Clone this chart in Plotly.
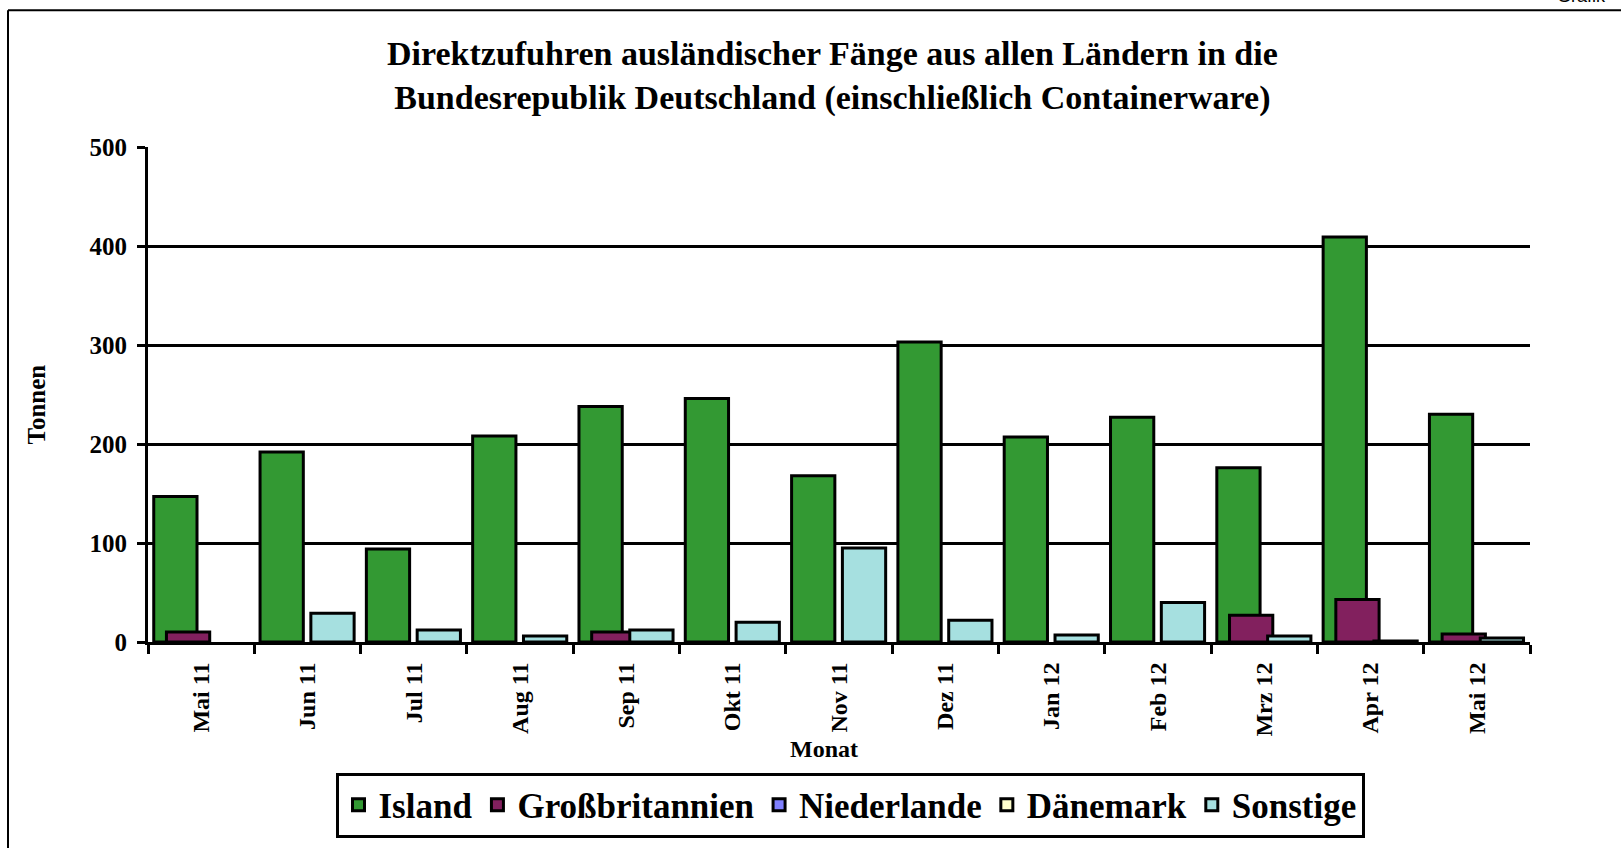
import plotly.graph_objects as go

months = ["Mai 11", "Jun 11", "Jul 11", "Aug 11", "Sep 11", "Okt 11", "Nov 11",
          "Dez 11", "Jan 12", "Feb 12", "Mrz 12", "Apr 12", "Mai 12"]
# None = no value (no bar drawn)
island = [147, 192, 94, 208, 238, 246, 168, 303, 207, 227, 176, 409, 230]
grossbritannien = [10, None, None, None, 10, None, None, None, None, None, 27, 43, 8]
niederlande = [None] * 13
daenemark = [None] * 13
sonstige = [None, 29, 12, 6, 12, 20, 95, 22, 7, 40, 6, 1, 4]

series = [
    ("Island", island, "#339933"),
    ("Großbritannien", grossbritannien, "#82205E"),
    ("Niederlande", niederlande, "#8080FF"),
    ("Dänemark", daenemark, "#FFFFCC"),
    ("Sonstige", sonstige, "#A6E0E0"),
]

W, H = 1621, 848
L, R, T, B = 148, 91, 147, 205
PW, PH = W - L - R, H - T - B


def px(x):
    return (x - L) / PW


def py(y):
    return (H - B - y) / PH


FONT = "Liberation Serif, Times New Roman, serif"

fig = go.Figure()
bw = 0.407
step = 0.1195
for i, (name, vals, col) in enumerate(series):
    fig.add_trace(go.Bar(
        x=months, y=vals, name=name,
        marker=dict(color=col, line=dict(color="black", width=3)),
        width=bw, offset=-0.446 + i * step,
    ))

fig.update_layout(
    width=W, height=H,
    margin=dict(l=L, r=R, t=T, b=B),
    barmode="overlay",
    plot_bgcolor="white", paper_bgcolor="white",
    showlegend=True,
    legend=dict(
        orientation="h", x=px(850), y=py(805), xanchor="center", yanchor="middle",
        bordercolor="black", borderwidth=3, bgcolor="white",
        font=dict(family=FONT, size=35, color="black", weight="bold"),
        itemwidth=30,
    ),
    xaxis=dict(
        type="category", range=[-0.5, 12.5],
        showline=True, linecolor="black", linewidth=3,
        ticks="outside", tickson="boundaries", ticklen=9, tickwidth=2.5, tickcolor="black",
        tickangle=-90, showgrid=False, ticklabelstandoff=8,
        tickfont=dict(family=FONT, size=24, color="black", weight="bold"),
    ),
    yaxis=dict(
        range=[0, 500], tickvals=[0, 100, 200, 300, 400, 500],
        showline=True, linecolor="black", linewidth=3,
        ticks="outside", ticklen=8, tickwidth=2.5, tickcolor="black",
        showgrid=True, gridcolor="black", gridwidth=2.5,
        zeroline=False, ticklabelstandoff=5,
        tickfont=dict(family=FONT, size=25, color="black", weight="bold"),
    ),
    shapes=[
        dict(type="line", xref="paper", yref="paper", x0=px(8), x1=px(W + 5),
             y0=py(10), y1=py(10), line=dict(color="black", width=2)),
        dict(type="line", xref="paper", yref="paper", x0=px(8), x1=px(8),
             y0=py(10), y1=py(H + 5), line=dict(color="black", width=2)),
    ],
    annotations=[
        dict(text="Direktzufuhren ausländischer Fänge aus allen Ländern in die<br>"
                  "Bundesrepublik Deutschland (einschließlich Containerware)",
             xref="paper", yref="paper", x=px(832), y=py(76),
             xanchor="center", yanchor="middle", showarrow=False,
             font=dict(family=FONT, size=34, color="black", weight="bold")),
        dict(text="Tonnen", xref="paper", yref="paper", x=px(36), y=py(405),
             xanchor="center", yanchor="middle", textangle=-90, showarrow=False,
             font=dict(family=FONT, size=25, color="black", weight="bold")),
        dict(text="Monat", xref="paper", yref="paper", x=px(824), y=py(750),
             xanchor="center", yanchor="middle", showarrow=False,
             font=dict(family=FONT, size=24, color="black", weight="bold")),
        dict(text="Grafik", xref="paper", yref="paper", x=px(1555), y=py(8),
             xanchor="left", yanchor="bottom", showarrow=False,
             font=dict(family="Liberation Sans, Arial, sans-serif", size=18, color="black")),
    ],
)

fig.write_html("out.html", config={"displayModeBar": False},
               post_script="document.body.style.margin='0';document.body.style.overflow='hidden';")
